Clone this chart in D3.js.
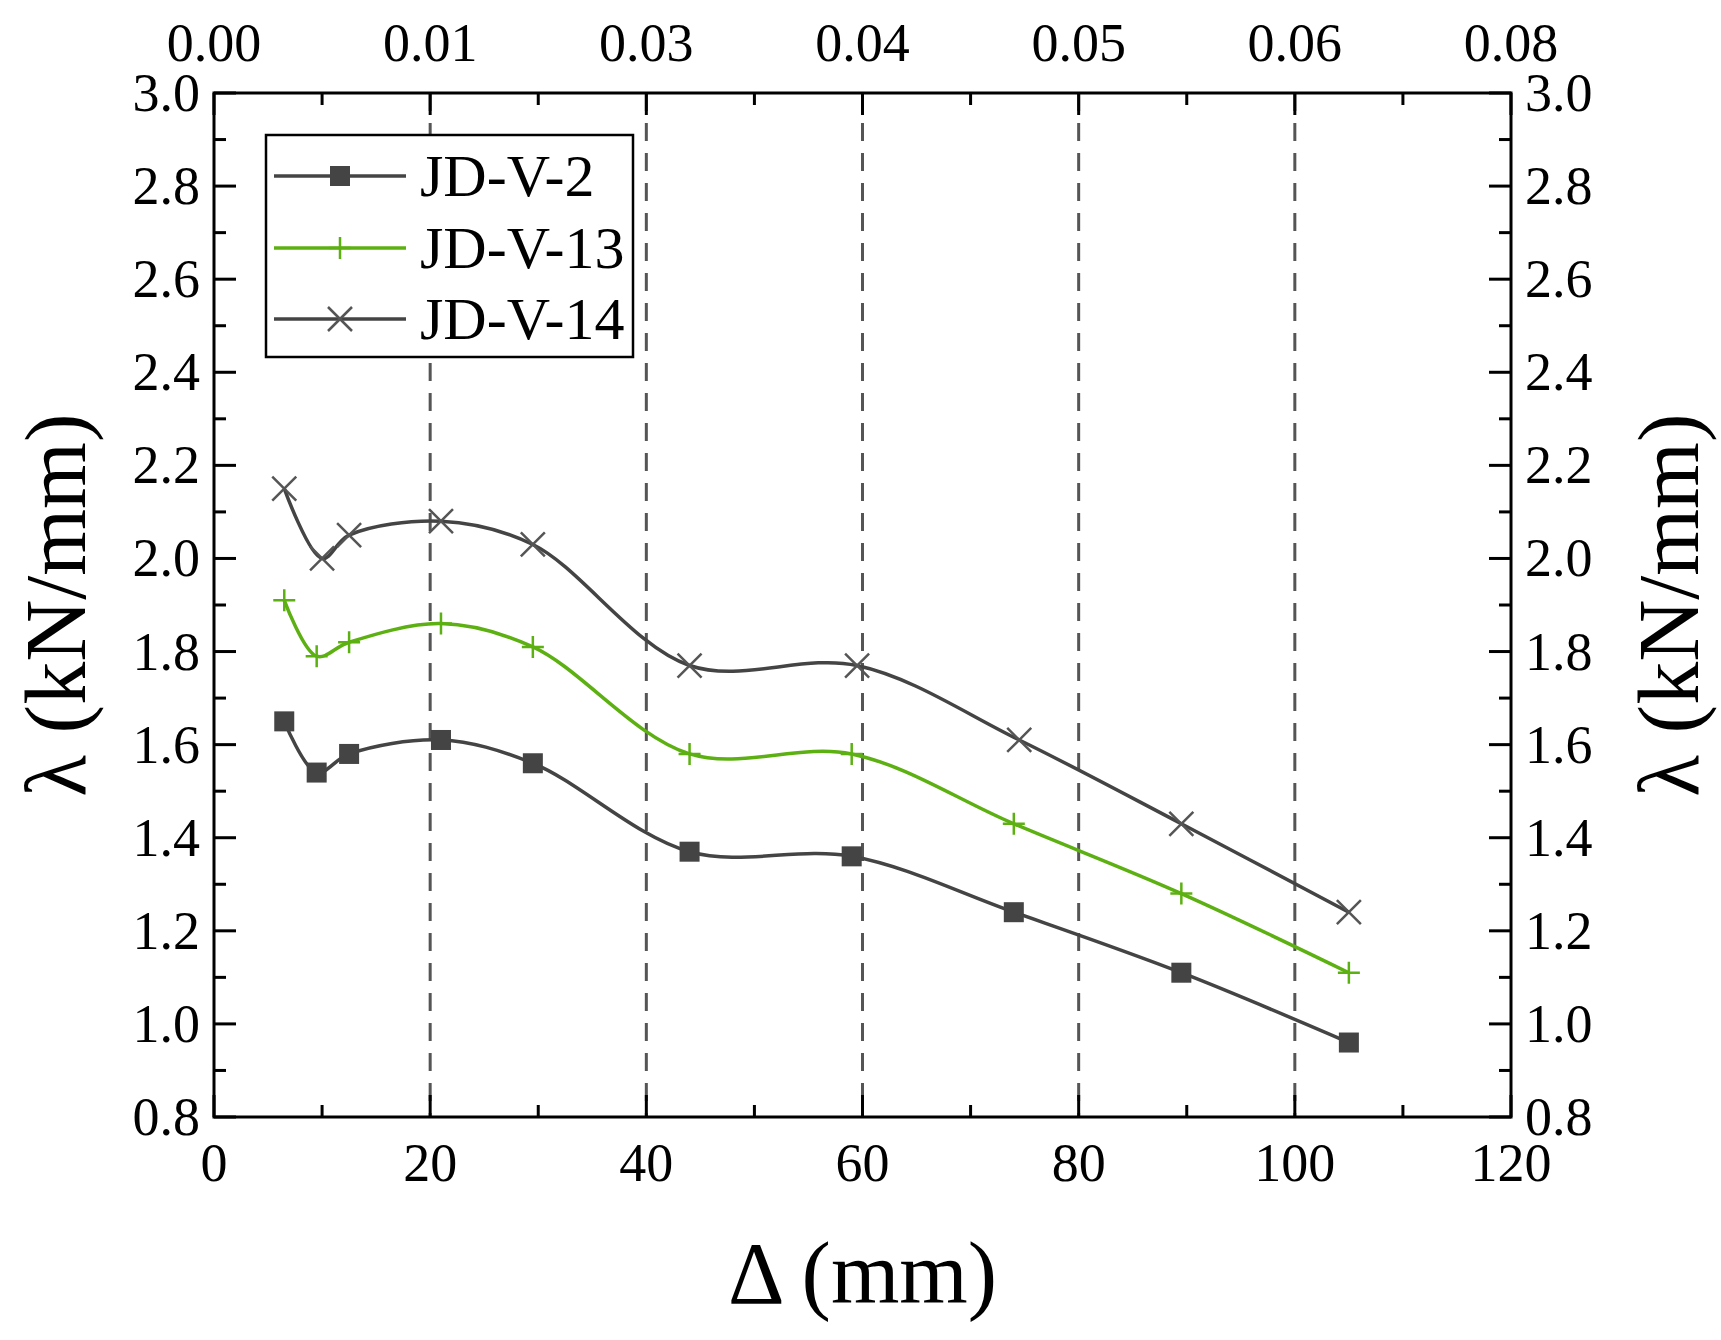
<!DOCTYPE html>
<html><head><meta charset="utf-8">
<script src="https://cdn.jsdelivr.net/npm/d3@7"></script>
<style>body{margin:0;background:#fff}svg{display:block}</style>
</head><body>
<script>
const deltaV2 = [6.5, 9.5, 12.5, 21, 29.5, 44, 59, 74, 89.5, 105];
const lambdaV2 = [1.65, 1.54, 1.58, 1.61, 1.56, 1.37, 1.36, 1.24, 1.11, 0.96];
const deltaV13 = [6.5, 9.5, 12.5, 21, 29.5, 44, 59, 74, 89.5, 105];
const lambdaV13 = [1.91, 1.79, 1.82, 1.86, 1.81, 1.58, 1.58, 1.43, 1.28, 1.11];
const deltaV14 = [6.5, 10, 12.5, 21, 29.5, 44, 59.5, 74.5, 89.5, 105];
const lambdaV14 = [2.15, 2.0, 2.05, 2.08, 2.03, 1.77, 1.77, 1.61, 1.43, 1.24];
const seriesNames = ["JD-V-2", "JD-V-13", "JD-V-14"];
const xTicks = [0, 20, 40, 60, 80, 100, 120];
const topTickLabels = ["0.00", "0.01", "0.03", "0.04", "0.05", "0.06", "0.08"];
const yTicks = [0.8, 1.0, 1.2, 1.4, 1.6, 1.8, 2.0, 2.2, 2.4, 2.6, 2.8, 3.0];

const W = 1721, H = 1340;
const L = 214, R = 1511, T = 93, B = 1117;
const svg = d3.select("body").append("svg").attr("width", W).attr("height", H)
  .style("font-family", "'Liberation Serif', serif");
const x = d3.scaleLinear().domain([0, 120]).range([L, R]);
const y = d3.scaleLinear().domain([0.8, 3.0]).range([B, T]);

svg.selectAll(".grid").data([20, 40, 60, 80, 100]).join("line")
  .attr("x1", d => x(d)).attr("x2", d => x(d)).attr("y1", T).attr("y2", B)
  .attr("stroke", "#555").attr("stroke-width", 3).attr("stroke-dasharray", "18,12");

const fs = 54;
const major = 22, minor = 12;
const g = svg.append("g").attr("stroke", "#000").attr("stroke-width", 3);
d3.range(0, 121, 10).forEach(v => {
  const len = v % 20 === 0 ? major : minor;
  g.append("line").attr("x1", x(v)).attr("x2", x(v)).attr("y1", B).attr("y2", B - len);
  g.append("line").attr("x1", x(v)).attr("x2", x(v)).attr("y1", T).attr("y2", T + len);
});
d3.range(8, 31, 1).forEach(k => {
  const v = k / 10, len = k % 2 === 0 ? major : minor;
  g.append("line").attr("y1", y(v)).attr("y2", y(v)).attr("x1", L).attr("x2", L + len);
  g.append("line").attr("y1", y(v)).attr("y2", y(v)).attr("x1", R).attr("x2", R - len);
});
g.append("rect").attr("x", L).attr("y", T).attr("width", R - L).attr("height", B - T).attr("fill", "none");

svg.selectAll(".xl").data(xTicks).join("text").attr("x", d => x(d)).attr("y", B + 64)
  .attr("text-anchor", "middle").attr("font-size", fs).text(d => d);
svg.selectAll(".tl").data(xTicks).join("text").attr("x", d => x(d)).attr("y", T - 32)
  .attr("text-anchor", "middle").attr("font-size", fs).text((d, i) => topTickLabels[i]);
svg.selectAll(".yl").data(yTicks).join("text").attr("x", L - 14).attr("y", d => y(d) + 18)
  .attr("text-anchor", "end").attr("font-size", fs).text(d => d.toFixed(1));
svg.selectAll(".yr").data(yTicks).join("text").attr("x", R + 14).attr("y", d => y(d) + 18)
  .attr("text-anchor", "start").attr("font-size", fs).text(d => d.toFixed(1));

svg.append("text").attr("x", (L + R) / 2).attr("y", 1303).attr("text-anchor", "middle")
  .attr("font-size", 88).text("Δ (mm)");
[55, 1668].forEach(cx => {
  svg.append("text").attr("transform", `translate(${cx + 30},${(T + B) / 2}) rotate(-90)`)
    .attr("text-anchor", "middle").attr("font-size", 86).text("λ (kN/mm)");
});

const colors = ["#444", "#5cb012", "#444"];
const data = [
  deltaV2.map((d, i) => [d, lambdaV2[i]]),
  deltaV13.map((d, i) => [d, lambdaV13[i]]),
  deltaV14.map((d, i) => [d, lambdaV14[i]])
];
const line = d3.line().x(d => x(d[0])).y(d => y(d[1])).curve(d3.curveCatmullRom.alpha(0.5));
function marker(sel, k, cx, cy) {
  if (k === 0) sel.append("rect").attr("x", cx - 10).attr("y", cy - 10).attr("width", 20).attr("height", 20).attr("fill", "#444");
  else if (k === 1) sel.append("path").attr("d", `M${cx - 11},${cy}H${cx + 11}M${cx},${cy - 11}V${cy + 11}`).attr("stroke", colors[1]).attr("stroke-width", 2.5);
  else sel.append("path").attr("d", `M${cx - 12},${cy - 12}L${cx + 12},${cy + 12}M${cx - 12},${cy + 12}L${cx + 12},${cy - 12}`).attr("stroke", "#555").attr("stroke-width", 2.5);
}
data.forEach((s, k) => {
  svg.append("path").datum(s).attr("d", line).attr("fill", "none").attr("stroke", colors[k]).attr("stroke-width", 3.5);
  const mg = svg.append("g");
  s.forEach(p => marker(mg, k, x(p[0]), y(p[1])));
});

svg.append("rect").attr("x", 266).attr("y", 135).attr("width", 367).attr("height", 222)
  .attr("fill", "#fff").attr("stroke", "#000").attr("stroke-width", 2.5);
[176, 248, 319].forEach((ly, k) => {
  svg.append("line").attr("x1", 274).attr("x2", 406).attr("y1", ly).attr("y2", ly).attr("stroke", colors[k]).attr("stroke-width", 3.5);
  marker(svg, k, 340, ly);
  svg.append("text").attr("x", 420).attr("y", ly + 20).attr("font-size", 60).text(seriesNames[k]);
});
</script>
</body></html>
